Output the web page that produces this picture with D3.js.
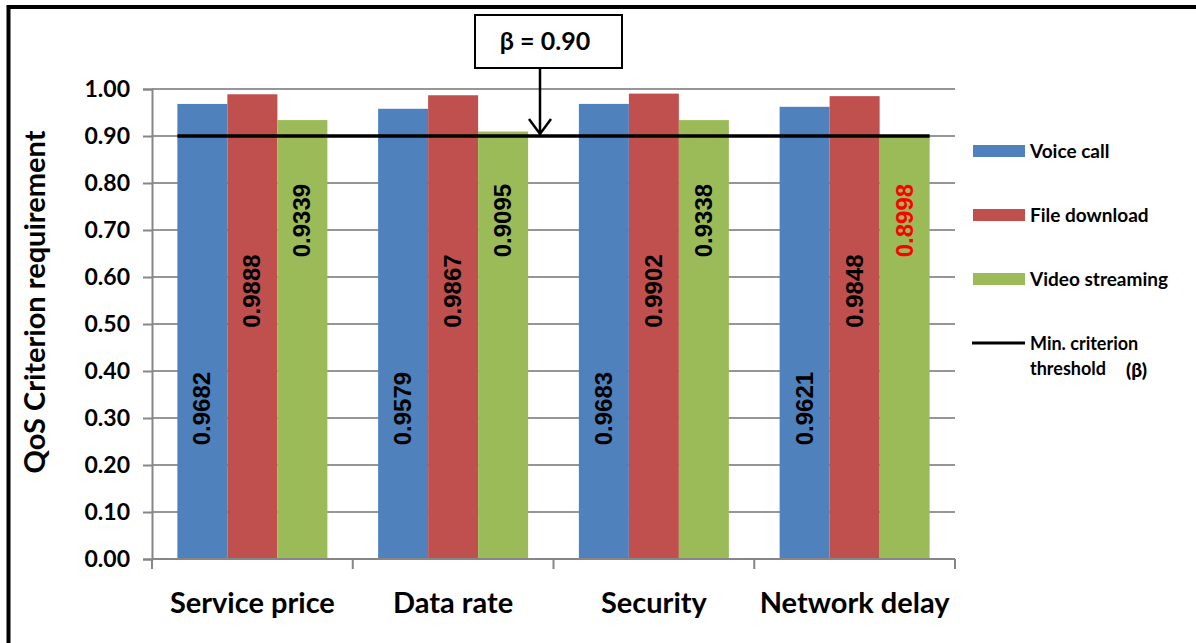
<!DOCTYPE html>
<html>
<head>
<meta charset="utf-8">
<title>QoS Criterion requirement</title>
<script src="https://cdn.jsdelivr.net/npm/d3@7"></script>
<style>
  body { margin: 0; background: #fff; }
  svg { display: block; }
</style>
</head>
<body>
<svg width="1196" height="643"></svg>
<script>
// chart data
const categories = ["Service price", "Data rate", "Security", "Network delay"];
const seriesNames = ["Voice call", "File download", "Video streaming"];
const voiceCall = [0.9682, 0.9579, 0.9683, 0.9621];
const fileDownload = [0.9888, 0.9867, 0.9902, 0.9848];
const videoStreaming = [0.9339, 0.9095, 0.9338, 0.8998];
const seriesColors = ["#4f81bd", "#c0504d", "#9bbb59"];
const labelAt = [0.32, 0.57, 0.72]; // where the value labels sit (in axis units)
const beta = 0.90;
const yTicks = [0, 0.1, 0.2, 0.3, 0.4, 0.5, 0.6, 0.7, 0.8, 0.9, 1.0];

const allSeries = [voiceCall, fileDownload, videoStreaming];

const svg = d3.select("svg");
const plotLeft = 152, plotRight = 955, plotTop = 89, plotBottom = 559;
const font = "Lato, 'Open Sans', sans-serif";

var x = d3.scaleBand()
    .domain(categories)
    .range([plotLeft, plotRight]);
var y = d3.scaleLinear()
    .domain([0, 1])
    .range([plotBottom, plotTop]);
var barW = 50;
var x1 = d3.scaleBand()
    .domain(d3.range(seriesNames.length))
    .range([0, barW * seriesNames.length]);
const groupOffset = (x.bandwidth() - barW * seriesNames.length) / 2;

// frame (left + top only, like the cropped original)
svg.append("path")
    .attr("d", "M8.5,643 V7 H1196")
    .attr("fill", "none")
    .attr("stroke", "#000")
    .attr("stroke-width", 4);

// gridlines
svg.append("g")
    .selectAll("line").data(yTicks.slice(1)).enter().append("line")
        .attr("x1", plotLeft).attr("x2", plotRight)
        .attr("y1", d => y(d)).attr("y2", d => y(d))
        .attr("stroke", "#969696")
        .attr("stroke-width", 2);

// y axis
const yAxis = svg.append("g")
    .attr("transform", "translate(" + plotLeft + ",0)")
    .call(d3.axisLeft(y).tickValues(yTicks).tickFormat(d3.format(".2f")).tickSize(9).tickPadding(13));
yAxis.select(".domain").attr("stroke", "#868686").attr("stroke-width", 2);
yAxis.selectAll(".tick line").attr("stroke", "#868686").attr("stroke-width", 2);
yAxis.selectAll("text")
    .attr("font-family", font)
    .attr("font-weight", "bold")
    .attr("font-size", 23)
    .attr("fill", "#000");

// bars
const groups = svg.append("g")
    .selectAll("g").data(categories).enter().append("g")
        .attr("transform", d => "translate(" + (x(d) + groupOffset) + ",0)");

groups.selectAll("rect")
    .data((c, ci) => allSeries.map((s, si) => ({si: si, v: s[ci]})))
    .enter().append("rect")
        .attr("x", d => x1(d.si))
        .attr("y", d => y(d.v))
        .attr("width", x1.bandwidth())
        .attr("height", d => y(0) - y(d.v))
        .attr("fill", d => seriesColors[d.si]);

// x axis line and ticks at band edges
svg.append("line")
    .attr("x1", plotLeft).attr("x2", plotRight)
    .attr("y1", plotBottom).attr("y2", plotBottom)
    .attr("stroke", "#868686").attr("stroke-width", 2);
const edges = categories.map(c => x(c)).concat([plotRight]);
svg.append("g")
    .selectAll("line").data(edges).enter().append("line")
        .attr("x1", d => d).attr("x2", d => d)
        .attr("y1", plotBottom).attr("y2", plotBottom + 10)
        .attr("stroke", "#868686").attr("stroke-width", 2);
svg.append("g")
    .selectAll("text").data(categories).enter().append("text")
        .attr("x", d => x(d) + x.bandwidth() / 2)
        .attr("y", 613)
        .attr("text-anchor", "middle")
        .attr("font-family", font)
        .attr("font-weight", "bold")
        .attr("font-size", 29)
        .text(d => d);

// value labels, rotated
groups.selectAll("text")
    .data((c, ci) => allSeries.map((s, si) => ({si: si, v: s[ci]})))
    .enter().append("text")
        .attr("transform", d => "translate(" + (x1(d.si) + x1.bandwidth() / 2 + 8) + "," + y(labelAt[d.si]) + ") rotate(-90)")
        .attr("text-anchor", "middle")
        .attr("font-family", "'Liberation Sans', Arial, sans-serif")
        .attr("font-weight", "bold")
        .attr("font-size", 24)
        .attr("fill", d => d.v < beta ? "#ff0000" : "#000")
        .text(d => d.v.toFixed(4));

// threshold line
svg.append("line")
    .attr("x1", x(categories[0]) + groupOffset)
    .attr("x2", x(categories[categories.length - 1]) + groupOffset + barW * seriesNames.length)
    .attr("y1", y(beta)).attr("y2", y(beta))
    .attr("stroke", "#000")
    .attr("stroke-width", 3.5);

// annotation box + arrow
svg.append("rect")
    .attr("x", 475).attr("y", 15)
    .attr("width", 147).attr("height", 53)
    .attr("fill", "#fff")
    .attr("stroke", "#000")
    .attr("stroke-width", 2);
svg.append("text")
    .attr("x", 545).attr("y", 50)
    .attr("text-anchor", "middle")
    .attr("font-family", font)
    .attr("font-weight", "bold")
    .attr("font-size", 25)
    .text("β = " + beta.toFixed(2));
const arrowX = 540;
svg.append("path")
    .attr("d", "M" + arrowX + ",68 V" + (y(beta) - 2) + " M" + (arrowX - 11) + "," + (y(beta) - 17) + " L" + arrowX + "," + (y(beta) - 2) + " L" + (arrowX + 11) + "," + (y(beta) - 17))
    .attr("fill", "none")
    .attr("stroke", "#000")
    .attr("stroke-width", 2.5);

// y axis title
svg.append("text")
    .attr("transform", "translate(45,302) rotate(-90)")
    .attr("text-anchor", "middle")
    .attr("font-family", font)
    .attr("font-weight", "bold")
    .attr("font-size", 29)
    .text("QoS Criterion requirement");

// legend
const legend = svg.append("g").attr("transform", "translate(973,0)");
const legendY = [151, 215, 279];
seriesNames.forEach((name, i) => {
    legend.append("rect")
        .attr("x", 0).attr("y", legendY[i] - 6)
        .attr("width", 52).attr("height", 12)
        .attr("fill", seriesColors[i]);
    legend.append("text")
        .attr("x", 57).attr("y", legendY[i] + 7)
        .attr("font-family", font)
        .attr("font-weight", "bold")
        .attr("font-size", 19)
        .text(name);
});
legend.append("line")
    .attr("x1", -1).attr("x2", 52)
    .attr("y1", 343).attr("y2", 343)
    .attr("stroke", "#000").attr("stroke-width", 3);
legend.append("text")
    .attr("x", 57).attr("y", 350)
    .attr("font-family", font)
    .attr("font-weight", "bold")
    .attr("font-size", 18)
    .text("Min. criterion");
legend.append("text")
    .attr("x", 57).attr("y", 375)
    .attr("font-family", font)
    .attr("font-weight", "bold")
    .attr("font-size", 18)
    .text("threshold");
legend.append("text")
    .attr("x", 153).attr("y", 377)
    .attr("font-family", font)
    .attr("font-weight", "900")
    .attr("font-size", 19)
    .text("(β)");
</script>
</body>
</html>
